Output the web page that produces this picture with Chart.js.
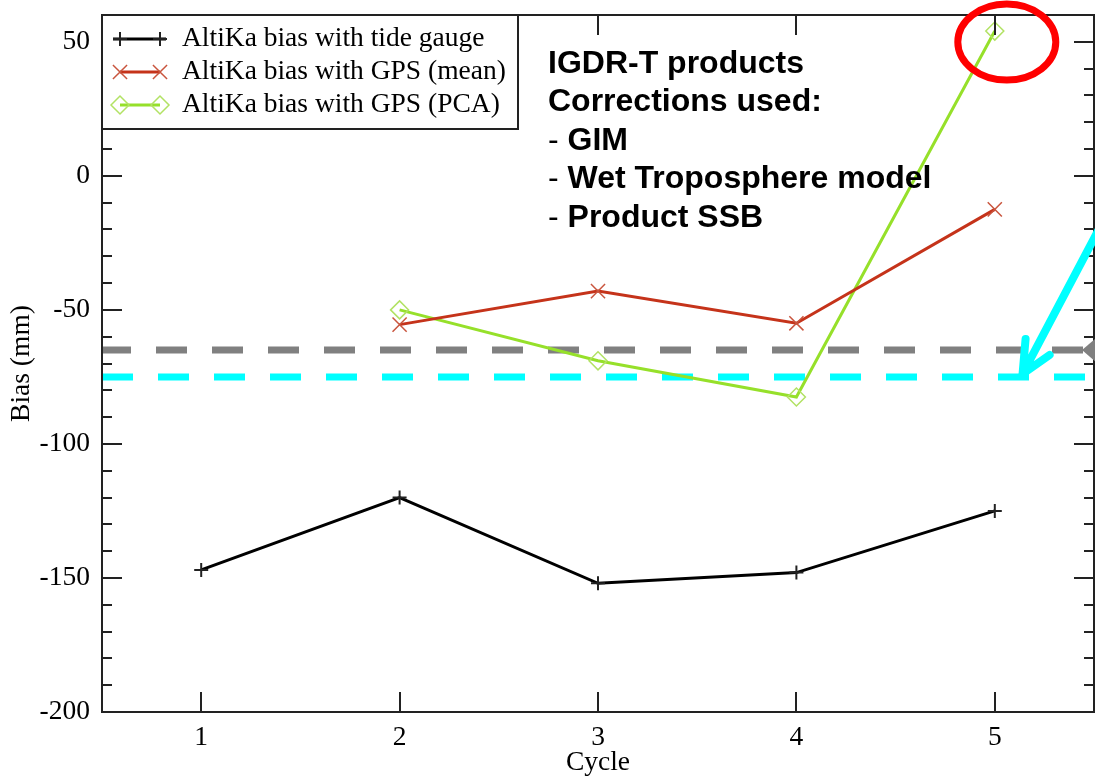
<!DOCTYPE html>
<html>
<head>
<meta charset="utf-8">
<title>AltiKa bias per cycle</title>
<script src="https://cdn.jsdelivr.net/npm/chart.js@4.4.1/dist/chart.umd.min.js"></script>
<style>
  html, body { margin: 0; padding: 0; background: #fff; }
  #wrap { width: 1095px; height: 778px; }
</style>
</head>
<body>
<div id="wrap"><canvas id="biasChart" width="1095" height="778"></canvas></div>
<script>
// cycle numbers and bias values (mm)
const cycles = [1, 2, 3, 4, 5];
const tideGaugeBias = [-147, -120, -152, -148, -125];
const gpsMeanBias = [null, -55.5, -43, -55, -12.5];
const gpsPcaBias = [null, -50, -69, -82.5, 54];

// reference levels shown as thick dashed lines
const refLevels = [-65, -75];
const refColors = ["#808080", "#00ffff"];

const yTicks = [-200, -150, -100, -50, 0, 50];
const seriesLabels = [
  "AltiKa bias with tide gauge",
  "AltiKa bias with GPS (mean)",
  "AltiKa bias with GPS (PCA)"
];
const noteLines = [
  "IGDR-T products",
  "Corrections used:",
  "- GIM",
  "- Wet Troposphere model",
  "- Product SSB"
];

const SERIF = "'Liberation Serif', 'Times New Roman', serif";
const SANS = "'Liberation Sans', Arial, sans-serif";

function toPoints(values) {
  return cycles.map((c, i) => ({ x: c, y: values[i] }));
}

const refDatasets = refLevels.map((lvl, i) => ({
  label: "ref" + i,
  data: [{ x: 0.5, y: lvl }, { x: 5.5, y: lvl }],
  borderColor: refColors[i],
  borderWidth: 7,
  borderDash: [31, 25],
  borderDashOffset: i === 0 ? 2 : 0,
  borderCapStyle: "butt",
  pointRadius: 0,
  order: 10
}));

const seriesDatasets = [
  {
    label: seriesLabels[0],
    data: toPoints(tideGaugeBias),
    borderColor: "#000000",
    borderWidth: 3,
    pointStyle: "cross",
    pointRadius: 7,
    pointBorderWidth: 2,
    pointBorderColor: "#222222",
    pointBackgroundColor: "rgba(0,0,0,0)"
  },
  {
    label: seriesLabels[1],
    data: toPoints(gpsMeanBias),
    borderColor: "#c5331a",
    borderWidth: 3,
    pointStyle: "crossRot",
    pointRadius: 10,
    pointBorderWidth: 1.5,
    pointBorderColor: "#c9553e",
    pointBackgroundColor: "rgba(0,0,0,0)"
  },
  {
    label: seriesLabels[2],
    data: toPoints(gpsPcaBias),
    borderColor: "#96e02a",
    borderWidth: 3,
    pointStyle: "rectRot",
    pointRadius: 9,
    pointBorderWidth: 1.5,
    pointBorderColor: "#b2e264",
    pointBackgroundColor: "rgba(0,0,0,0)"
  }
];

// box frame with inward ticks on all four sides
const framePlugin = {
  id: "frame",
  afterDatasetsDraw(chart) {
    const { ctx, chartArea: a, scales: { x, y } } = chart;
    ctx.save();
    ctx.strokeStyle = "#222";
    ctx.lineWidth = 2;
    ctx.strokeRect(a.left, a.top, a.right - a.left, a.bottom - a.top);
    ctx.beginPath();
    cycles.forEach((c) => {
      const px = Math.round(x.getPixelForValue(c));
      ctx.moveTo(px, a.bottom); ctx.lineTo(px, a.bottom - 20);
      ctx.moveTo(px, a.top); ctx.lineTo(px, a.top + 20);
    });
    for (let v = y.min; v <= y.max; v += 10) {
      const py = Math.round(y.getPixelForValue(v));
      const len = yTicks.includes(v) ? 20 : 10;
      ctx.moveTo(a.left, py); ctx.lineTo(a.left + len, py);
      ctx.moveTo(a.right, py); ctx.lineTo(a.right - len, py);
    }
    ctx.stroke();
    ctx.restore();
  }
};

// legend box, text note and slide markings
const overlayPlugin = {
  id: "overlay",
  afterDraw(chart) {
    const { ctx, chartArea: a, scales: { x, y } } = chart;
    const drawPoint = Chart.helpers.drawPoint;
    ctx.save();

    // legend
    const box = { l: a.left, t: a.top, r: 518, b: 129 };
    ctx.fillStyle = "#fff";
    ctx.fillRect(box.l, box.t, box.r - box.l, box.b - box.t);
    ctx.strokeStyle = "#222";
    ctx.lineWidth = 2;
    ctx.strokeRect(box.l, box.t, box.r - box.l, box.b - box.t);
    const rowY = [39, 72, 105];
    seriesDatasets.forEach((ds, i) => {
      const yy = rowY[i];
      ctx.strokeStyle = ds.borderColor;
      ctx.lineWidth = ds.borderWidth;
      ctx.beginPath();
      ctx.moveTo(i === 0 ? 113 : 120, yy);
      ctx.lineTo(i === 0 ? 166 : 160, yy);
      ctx.stroke();
      ctx.strokeStyle = ds.pointBorderColor;
      ctx.fillStyle = "rgba(0,0,0,0)";
      const opts = { pointStyle: ds.pointStyle, radius: ds.pointRadius, borderWidth: ds.pointBorderWidth, rotation: 0 };
      ctx.lineWidth = ds.pointBorderWidth;
      drawPoint(ctx, opts, 120, yy);
      drawPoint(ctx, opts, 160, yy);
      ctx.fillStyle = "#000";
      ctx.font = "27.5px " + SERIF;
      ctx.textBaseline = "middle";
      ctx.textAlign = "left";
      ctx.fillText(ds.label, 182, yy);
    });

    // corrections note
    ctx.fillStyle = "#000";
    ctx.textBaseline = "middle";
    noteLines.forEach((line, i) => {
      const ty = 64 + i * 38.5;
      let tx = 548;
      let text = line;
      if (line.startsWith("- ")) {
        ctx.font = "32px " + SANS;
        ctx.fillText("-", tx, ty);
        tx += ctx.measureText("- ").width;
        text = line.slice(2);
      }
      ctx.font = "bold 32px " + SANS;
      ctx.fillText(text, tx, ty);
    });

    // red ring round the last PCA value
    const px5 = x.getPixelForValue(cycles[4]);
    const py5 = y.getPixelForValue(gpsPcaBias[4]);
    ctx.strokeStyle = "#ff0000";
    ctx.lineWidth = 7;
    ctx.beginPath();
    ctx.ellipse(px5 + 12, py5 + 11, 49, 38, 0, 0, Math.PI * 2);
    ctx.stroke();

    // cyan arrow pointing at the cyan level
    const tipX = x.getPixelForValue(5.14);
    const tipY = y.getPixelForValue(refLevels[1]) - 3;
    ctx.strokeStyle = "#00ffff";
    ctx.lineWidth = 8;
    ctx.lineCap = "round";
    ctx.lineJoin = "round";
    ctx.beginPath();
    ctx.moveTo(tipX + 95, tipY - 180);
    ctx.lineTo(tipX, tipY);
    ctx.moveTo(tipX + 3, tipY - 35);
    ctx.lineTo(tipX, tipY);
    ctx.lineTo(tipX + 27, tipY - 19);
    ctx.stroke();

    // grey arrow head on the grey level at the right edge
    const gy = y.getPixelForValue(refLevels[0]);
    ctx.fillStyle = "#808080";
    ctx.beginPath();
    ctx.moveTo(a.right - 12, gy);
    ctx.lineTo(a.right + 2, gy - 12);
    ctx.lineTo(a.right + 2, gy + 12);
    ctx.closePath();
    ctx.fill();

    ctx.restore();
  }
};

new Chart(document.getElementById("biasChart"), {
  type: "line",
  data: { datasets: [...seriesDatasets, ...refDatasets] },
  options: {
    responsive: false,
    animation: false,
    devicePixelRatio: 1,
    layout: { autoPadding: false, padding: { top: 15, right: 1, left: 0, bottom: 0 } },
    elements: { line: { tension: 0 } },
    plugins: { legend: { display: false }, tooltip: { enabled: false } },
    scales: {
      x: {
        type: "linear",
        min: 0.5,
        max: 5.5,
        afterBuildTicks: (s) => { s.ticks = cycles.map((v) => ({ value: v })); },
        afterFit: (s) => { s.height = 66; s.paddingLeft = 0; s.paddingRight = 0; },
        grid: { display: false, drawTicks: false },
        border: { display: false },
        ticks: { color: "#000", padding: 9, font: { family: SERIF, size: 27.5 } },
        title: {
          display: true,
          text: "Cycle",
          color: "#000",
          font: { family: SERIF, size: 27.5, lineHeight: 1 },
          padding: { top: 0, bottom: 1 }
        }
      },
      y: {
        type: "linear",
        min: -200,
        max: 60,
        afterBuildTicks: (s) => { s.ticks = yTicks.map((v) => ({ value: v })); },
        afterFit: (s) => { s.width = 102; s.paddingTop = 0; s.paddingBottom = 0; },
        grid: { display: false, drawTicks: false },
        border: { display: false },
        ticks: { color: "#000", padding: 12, font: { family: SERIF, size: 27.5 } },
        title: {
          display: true,
          text: "Bias (mm)",
          color: "#000",
          font: { family: SERIF, size: 27.5, lineHeight: 1 },
          padding: { top: 8, bottom: 0 }
        }
      }
    }
  },
  plugins: [framePlugin, overlayPlugin]
});
</script>
</body>
</html>
